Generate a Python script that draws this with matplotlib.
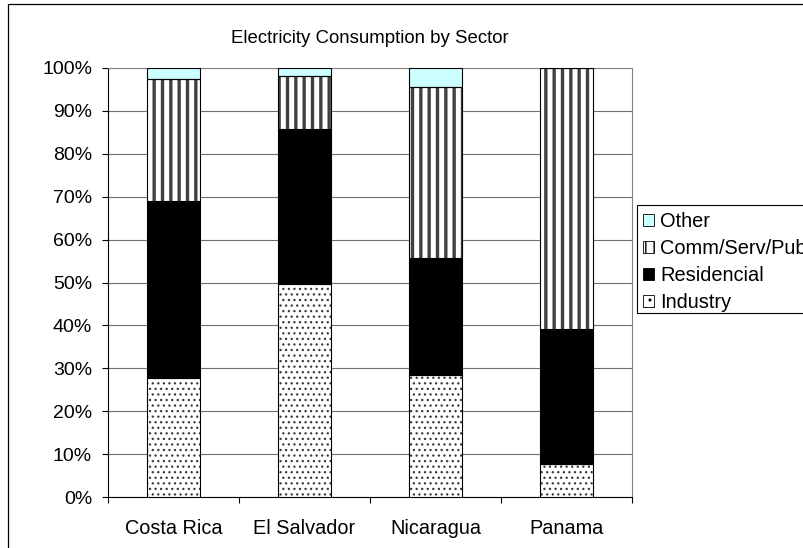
import numpy as np
import matplotlib.pyplot as plt
from matplotlib.patches import Patch, Rectangle

plt.rcParams['font.family'] = ['Liberation Sans', 'DejaVu Sans']

# share of electricity consumption per sector (%)
countries = ['Costa Rica', 'El Salvador', 'Nicaragua', 'Panama']
industry = [27.7, 49.7, 28.4, 7.7]
residencial = [41.3, 36.1, 27.3, 31.5]
comm_serv_pub = [28.4, 12.4, 39.9, 60.8]
other = [2.6, 1.8, 4.4, 0.0]

W, H = 804, 548
fig = plt.figure(figsize=(W / 100, H / 100), dpi=100)
ax = fig.add_axes([108 / W, 1 - 497 / H, 524 / W, 429 / H])

x = np.arange(len(countries))
bw = 0.4
bottom = np.zeros(len(countries))

series = [
    (industry, 'Industry', dict(color='white', hatch='...', hatch_ec='#3a3a3a', lw_h=0.9)),
    (residencial, 'Residencial', dict(color='black', hatch=None, hatch_ec=None, lw_h=0.6)),
    (comm_serv_pub, 'Comm/Serv/Pub', dict(color='white', hatch='||', hatch_ec='#404040', lw_h=2.4)),
    (other, 'Other', dict(color='#CCFFFF', hatch=None, hatch_ec=None, lw_h=0.6)),
]

for vals, name, st in series:
    vals = np.array(vals)
    if st['hatch']:
        with plt.rc_context({'hatch.linewidth': st['lw_h']}):
            ax.bar(x, vals, bw, bottom=bottom, color=st['color'],
                   hatch=st['hatch'], edgecolor=st['hatch_ec'], linewidth=0, zorder=3)
        ax.bar(x, vals, bw, bottom=bottom, fill=False, edgecolor='black',
               linewidth=0.8, zorder=4)
    else:
        ax.bar(x, vals, bw, bottom=bottom, color=st['color'],
               edgecolor='black', linewidth=0.8, zorder=3)
    bottom += vals

ax.set_xlim(-0.5, len(countries) - 0.5)
ax.set_ylim(0, 100)
ax.set_yticks(np.arange(0, 101, 10))
ax.set_yticklabels([f'{v}%' for v in range(0, 101, 10)], fontsize=14)
ax.yaxis.grid(True, color='#707070', linewidth=0.8, zorder=0)
ax.set_axisbelow(True)

ax.set_xticks(np.arange(-0.5, len(countries), 1.0))
ax.set_xticklabels([])
ax.set_xticks(x, minor=True)
ax.set_xticklabels(countries, minor=True, fontsize=14.3)
ax.tick_params(axis='x', which='minor', length=0, pad=16)
ax.tick_params(axis='both', which='major', direction='out', length=4, width=0.8)
ax.tick_params(axis='y', pad=7.5)

for s in ['left', 'bottom']:
    ax.spines[s].set_color('black')
    ax.spines[s].set_linewidth(0.8)
for s in ['top', 'right']:
    ax.spines[s].set_color('#808080')
    ax.spines[s].set_linewidth(0.8)

fig.text(370 / W, 1 - 43 / H, 'Electricity Consumption by Sector',
         ha='center', va='baseline', fontsize=13.4)

# legend, box drawn separately so it runs off the right edge
handles = [
    Patch(facecolor='#CCFFFF', edgecolor='black', linewidth=0.6, label='Other'),
    Patch(facecolor='white', edgecolor='black', hatch='||', linewidth=0.6, label='Comm/Serv/Pub'),
    Patch(facecolor='black', edgecolor='black', linewidth=0.6, label='Residencial'),
    Patch(facecolor='white', edgecolor='black', hatch='..', linewidth=0.6, label='Industry'),
]
fig.legend(handles=handles, loc='upper left', bbox_to_anchor=(640 / W, 1 - 209 / H),
           frameon=False, fontsize=14.4, handlelength=0.55, handleheight=0.55,
           handletextpad=0.3, labelspacing=0.4, borderpad=0.15, borderaxespad=0)
fig.add_artist(Rectangle((637 / W, 1 - 313 / H), 0.5, 108 / H, transform=fig.transFigure,
                         fill=False, edgecolor='black', linewidth=0.8))

# outer chart border
fig.add_artist(Rectangle((8 / W, -0.1), 1.2, 1.1 - 4 / H, transform=fig.transFigure,
                         fill=False, edgecolor='black', linewidth=0.9))

fig.savefig('out.png', dpi=100)
